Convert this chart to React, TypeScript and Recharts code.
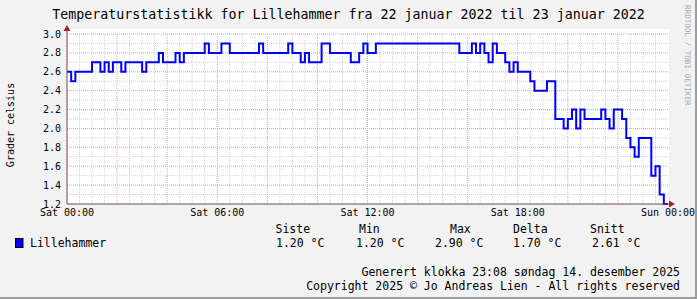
import { LineChart, Line, XAxis, YAxis, CartesianGrid } from 'recharts';

// 10-minute slots from Sat 00:00 (0) to Sun 00:00 (144); value holds until the next slot listed
const slots = [0, 1, 2, 6, 8, 9, 10, 11, 13, 14, 18, 19, 22, 23, 26, 27, 28, 33, 34, 37, 39, 46, 47, 53, 54, 56, 57, 58, 61, 63, 68, 70, 71, 72, 74, 94, 97, 98, 99, 100, 101, 102, 103, 105, 106, 107, 108, 111, 112, 115, 117, 119, 120, 121, 122, 123, 124, 128, 129, 130, 131, 133, 134, 135, 136, 137, 140, 141, 142, 143, 144];
const temps = [2.6, 2.5, 2.6, 2.7, 2.6, 2.7, 2.6, 2.7, 2.6, 2.7, 2.6, 2.7, 2.8, 2.7, 2.8, 2.7, 2.8, 2.9, 2.8, 2.9, 2.8, 2.9, 2.8, 2.9, 2.8, 2.7, 2.8, 2.7, 2.9, 2.8, 2.7, 2.8, 2.9, 2.8, 2.9, 2.8, 2.9, 2.8, 2.9, 2.8, 2.7, 2.9, 2.8, 2.7, 2.6, 2.7, 2.6, 2.5, 2.4, 2.5, 2.1, 2.0, 2.1, 2.2, 2.0, 2.2, 2.1, 2.2, 2.1, 2.0, 2.2, 2.1, 1.9, 1.8, 1.7, 1.9, 1.5, 1.6, 1.3, 1.2, 1.2];

const tickSlots = [0, 36, 72, 108, 144];
const tickLabels = ['Sat 00:00', 'Sat 06:00', 'Sat 12:00', 'Sat 18:00', 'Sun 00:00'];
const yTicks = [1.2, 1.4, 1.6, 1.8, 2.0, 2.2, 2.4, 2.6, 2.8, 3.0];

const seriesName = 'Lillehammer';
const statHeaders = ['Siste', 'Min', 'Max', 'Delta', 'Snitt'];
const statValues = ['1.20 °C', '1.20 °C', '2.90 °C', '1.70 °C', '2.61 °C'];

const data = slots.map((s, i) => ({ slot: s, temp: temps[i] }));

// grid: minor every 30 min / 0.1, major every 2 h / 0.2
const minorX = Array.from({ length: 49 }, (_, i) => i * 3).filter((v) => v % 12 !== 0);
const majorX = Array.from({ length: 11 }, (_, i) => (i + 1) * 12);
const minorY = [1.3, 1.5, 1.7, 1.9, 2.1, 2.3, 2.5, 2.7, 2.9];
const majorY = [1.4, 1.6, 1.8, 2.0, 2.2, 2.4, 2.6, 2.8, 3.0];

const mono = 'DejaVu Sans Mono';
const axisColor = '#6e4b4b';
const arrowColor = '#a02424';

const statHeaderX = [275.5, 359, 450, 513, 590];
const statValueX = [276, 356, 435, 513, 592];

export default function App() {
  return (
    <div style={{ position: 'absolute', left: 0, top: 0, width: 697, height: 299, background: '#f2f2f2', boxSizing: 'border-box', borderRight: '2px solid #9e9e9e', borderBottom: '2px solid #9e9e9e', overflow: 'hidden' }}>
      <div style={{ position: 'absolute', left: 67, top: 29, width: 602, height: 175, background: '#fff' }} />
      <div style={{ position: 'absolute', left: 0, top: 0 }}>
        <LineChart width={697} height={299} data={data} margin={{ top: 34, right: 29, bottom: 65, left: 0 }}>
          <CartesianGrid horizontalValues={minorY} verticalValues={minorX} stroke="#d4d4d4" strokeDasharray="1 1" fill="none" />
          <CartesianGrid horizontalValues={majorY} verticalValues={majorX} stroke="#e6a5a5" strokeDasharray="1 1" fill="none" />
          <XAxis
            type="number"
            dataKey="slot"
            domain={[0, 144]}
            ticks={tickSlots}
            interval={0}
            tickFormatter={(v) => tickLabels[tickSlots.indexOf(v)]}
            axisLine={{ stroke: axisColor }}
            tickLine={false}
            tickSize={0}
            tickMargin={5}
            height={30}
            tick={{ fill: '#000', fontSize: 10, fontFamily: mono }}
          />
          <YAxis
            type="number"
            domain={[1.2, 3.0]}
            ticks={yTicks}
            interval={0}
            tickFormatter={(v) => Number(v).toFixed(1)}
            axisLine={{ stroke: axisColor }}
            tickLine={false}
            tickSize={0}
            tickMargin={6}
            width={67}
            tick={{ fill: '#000', fontSize: 10, fontFamily: mono }}
          />
          <Line type="stepAfter" dataKey="temp" stroke="#0000ff" strokeWidth={2} dot={false} isAnimationActive={false} />
        </LineChart>
      </div>
      <svg width={697} height={299} style={{ position: 'absolute', left: 0, top: 0, pointerEvents: 'none' }}>
        <line x1={67} y1={34} x2={67} y2={30} stroke={axisColor} />
        <polygon points="67,25 63.5,31 70.5,31" fill={arrowColor} />
        <line x1={668} y1={204} x2={670} y2={204} stroke={axisColor} />
        <polygon points="675,204 669,200.5 669,207.5" fill={arrowColor} />
        <text x={348.5} y={18.5} textAnchor="middle" fontFamily={mono} fontSize={13.3} fill="#000">
          Temperaturstatistikk for Lillehammer fra 22 januar 2022 til 23 januar 2022
        </text>
        <text transform="translate(13.5,125) rotate(-90)" textAnchor="middle" fontFamily={mono} fontSize={10} fill="#000">
          Grader celsius
        </text>
        <text transform="translate(684.5,5) rotate(90)" fontFamily={mono} fontSize={7.6} fill="#aaaaaa">
          RRDTOOL / TOBI OETIKER
        </text>
        {statHeaders.map((h, i) => (
          <text key={h} x={statHeaderX[i]} y={232.5} fontFamily={mono} fontSize={11.5} fill="#000">{h}</text>
        ))}
        <rect x={15.5} y={238.5} width={7.5} height={9} fill="#0000ff" stroke="#000" />
        <text x={30} y={247} fontFamily={mono} fontSize={11.5} fill="#000">{seriesName}</text>
        {statValues.map((v, i) => (
          <text key={i} x={statValueX[i]} y={247} fontFamily={mono} fontSize={11.5} fill="#000">{v}</text>
        ))}
        <text x={680} y={276} textAnchor="end" fontFamily={mono} fontSize={11.5} fill="#000">
          Generert klokka 23:08 søndag 14. desember 2025
        </text>
        <text x={680} y={290} textAnchor="end" fontFamily={mono} fontSize={11.5} fill="#000">
          Copyright 2025 © Jo Andreas Lien - All rights reserved
        </text>
      </svg>
    </div>
  );
}
